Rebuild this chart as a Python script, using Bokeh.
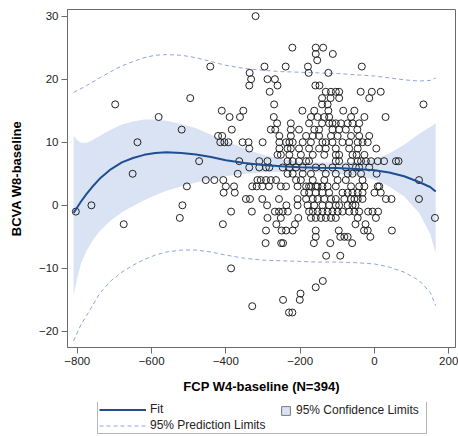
from bokeh.plotting import figure
from bokeh.layouts import column
from bokeh.models import Range1d, FixedTicker, Legend, LegendItem
from bokeh.embed import file_html
from bokeh.resources import INLINE

# ---- scatter data: BCVA change (integer letters) and the FCP changes read per row ----
bcva_levels = [30, 25, 24, 23, 22, 21, 20, 19, 18, 17, 16, 15, 14, 13, 12, 11, 10, 9, 8, 7,
               6, 5, 4, 3, 2, 1, 0, -1, -2, -3, -4, -5, -6, -8, -10, -12, -13, -14, -15, -16, -17]
fcp_by_level = [
    [-320],
    [-221, -158, -138],
    [-158, -112],
    [-154],
    [-442, -296, -239, -179, -34],
    [-336, -177, -124],
    [-332, -288, -268],
    [-337, -261, -159, -148],
    [-282, -131, -117, -104, -95, -37, -7, 17],
    [-496, -141, -118, -95, -14],
    [-698, -270, -141, -126, 132],
    [-411, -353, -194, -162, -124, -84, -54],
    [-581, -390, -362, -271, -171, -153, -135, -122, -63, -27, 30],
    [-262, -225, -176, -141, -122, -113, -104, -90, -72, -59, -41],
    [-519, -384, -279, -267, -225, -203, -162, -149, -113, -95, -77, -46],
    [-421, -410, -256, -225, -184, -166, -149, -117, -99, -63, -41, -14],
    [-638, -415, -404, -393, -355, -339, -301, -256, -238, -229, -220, -193, -171, -140, -131,
     -113, -86, -68, -45, -32, -18],
    [-337, -256, -234, -225, -203, -176, -149, -131, -104, -68, -45, 5],
    [-261, -252, -229, -198, -166, -135, -104, -95, -59, -48, -27],
    [-472, -364, -310, -288, -234, -220, -203, -184, -176, -104, -95, -63, -45, -36, -23, -9,
     9, 26, 58, 65],
    [-337, -310, -292, -283, -247, -229, -211, -193, -158, -140, -113, -77, -50, -41, -14],
    [-651, -368, -234, -220, -193, -171, -131, -104, -72, -59, -36, 6],
    [-454, -431, -407, -315, -306, -292, -279, -265, -211, -198, -166, -135, -99, -77, -32, 120],
    [-505, -400, -378, -329, -317, -302, -284, -252, -238, -207, -184, -176, -171, -158, -153,
     -140, -126, -104, -63, -41, -27, 9, 13],
    [-406, -376, -189, -176, -158, -140, -122, -86, -72, -59, -45, -32, 0, 17],
    [-346, -335, -302, -257, -207, -184, -166, -153, -135, -117, -104, -81, -63, -54, -45, -32,
     31, 46, 120],
    [-762, -517, -289, -237, -207, -180, -162, -140, -122, -104, -95, -72, -59, -51],
    [-804, -386, -330, -268, -257, -247, -233, -176, -166, -153, -140, -126, -113, -99, -86,
     -68, -54, -41, -17, -5, 10],
    [-524, -288, -252, -205, -171, -158, -144, -131, -117, -104, -45, 4, 163],
    [-675, -408, -264, -214, -51, -24],
    [-292, -250, -238, -220, -158, -96, -28, -18, 47],
    [-158, -92, -81, -72, -11],
    [-293, -251, -246, -163, -119, -60],
    [-130, -92],
    [-386],
    [-139],
    [-158],
    [-199],
    [-246, -201],
    [-329],
    [-230, -221],
]

# ---- fitted curve, 95% confidence and prediction limits ----
curve_fcp = [-810, -800, -790, -775, -760, -740, -710, -680, -650, -620, -590, -560, -520,
             -480, -440, -400, -350, -300, -250, -200, -150, -100, -50, 0, 40, 80, 120, 150, 165]
fit_bcva = [-1.2, -0.3, 0.6, 1.8, 2.9, 4.2, 5.7, 6.8, 7.5, 8.0, 8.3, 8.4, 8.3,
            8.05, 7.65, 7.15, 6.7, 6.4, 6.2, 6.05, 5.95, 5.9, 5.75, 5.55, 5.2, 4.6, 3.7, 2.9, 2.2]
clm_lower = [-14.3, -11.5, -9.2, -7.2, -5.7, -4.1, -2.4, -1.1, -0.1, 0.8, 1.6, 2.3, 3.0,
             3.6, 4.1, 4.6, 5.0, 5.2, 5.3, 5.3, 5.2, 5.0, 4.7, 4.1, 3.0, 1.4, -1.2, -4.5, -7.6]
clm_upper = [11.0, 10.3, 9.9, 9.9, 10.3, 11.0, 12.0, 12.8, 13.3, 13.6, 13.6, 13.4, 12.9,
             12.2, 11.2, 10.2, 9.0, 8.0, 7.3, 6.9, 6.8, 6.8, 6.9, 7.3, 8.2, 9.6, 11.3, 12.4, 13.0]
plm_lower = [-21.5, -20.2, -18.9, -17.5, -16.0, -14.0, -12.0, -10.6, -9.5, -8.6, -7.9, -7.4, -7.1,
             -7.1, -7.4, -7.9, -8.4, -8.7, -8.8, -8.9, -9.0, -9.0, -9.1, -9.3, -9.8, -10.6, -11.9,
             -13.8, -15.9]
plm_upper = [17.9, 18.2, 18.5, 19.0, 19.5, 20.2, 21.2, 22.1, 22.8, 23.4, 23.8, 23.9, 23.8,
             23.4, 22.8, 22.2, 21.7, 21.4, 21.2, 21.1, 21.0, 20.9, 20.7, 20.5, 20.2, 19.9, 19.7,
             19.8, 20.2]

x_ticks = [-800, -600, -400, -200, 0, 200]
y_ticks = [-20, -10, 0, 10, 20, 30]

fcp_change = [x for xs in fcp_by_level for x in xs]
bcva_change = [lvl for lvl, xs in zip(bcva_levels, fcp_by_level) for _ in xs]

FONT = "Liberation Sans"
FRAME = "#6b6b6b"
BAND = "#dae3f3"
FIT = "#1f4e91"
PRED = "#8fa6d6"

# ---------------- main plot ----------------
p = figure(width=458, height=402, output_backend="svg", toolbar_location=None,
           x_range=Range1d(-826.4, 218.3), y_range=Range1d(-22.55, 31.05),
           min_border_left=67, min_border_right=3, min_border_top=9, min_border_bottom=55)
p.xgrid.visible = False
p.ygrid.visible = False
p.outline_line_color = FRAME
p.outline_line_width = 1
p.background_fill_color = "white"
p.border_fill_color = "white"

p.varea(x=curve_fcp, y1=clm_lower, y2=clm_upper, fill_color=BAND)
p.line(curve_fcp, plm_upper, line_color=PRED, line_dash="4 3", line_width=1)
p.line(curve_fcp, plm_lower, line_color=PRED, line_dash="4 3", line_width=1)
p.scatter(fcp_change, bcva_change, marker="circle", size=7, fill_color=None,
          line_color="#222222", line_width=1)
p.line(curve_fcp, fit_bcva, line_color=FIT, line_width=2)

for ax in (p.xaxis[0], p.yaxis[0]):
    ax.axis_line_color = FRAME
    ax.major_tick_line_color = FRAME
    ax.minor_tick_line_color = None
    ax.major_tick_out = 6
    ax.major_tick_in = 0
    ax.major_label_text_font = FONT
    ax.major_label_text_font_size = "11.5px"
    ax.major_label_text_color = "#222222"
    ax.axis_label_text_font = FONT
    ax.axis_label_text_font_size = "13px"
    ax.axis_label_text_font_style = "bold"
    ax.axis_label_text_color = "black"
    ax.major_label_standoff = 3

p.xaxis.ticker = FixedTicker(ticks=x_ticks)
p.yaxis.ticker = FixedTicker(ticks=y_ticks)
p.xaxis.axis_label = "FCP W4-baseline (N=394)"
p.yaxis.axis_label = "BCVA W8-baseline"
p.xaxis.axis_label_standoff = 11
p.yaxis.axis_label_standoff = 12

# ---------------- legend strip (its frame is aligned with the main frame) ----------------
lf = figure(width=458, height=34, output_backend="svg", toolbar_location=None,
            x_axis_type=None, y_axis_type=None,
            x_range=Range1d(0, 1), y_range=Range1d(0, 1),
            min_border_left=0, min_border_right=0, min_border_top=0, min_border_bottom=0)
lf.xgrid.visible = False
lf.ygrid.visible = False
lf.outline_line_color = None
lf.background_fill_color = "white"
lf.border_fill_color = "white"

# legend keys only (hidden renderers, never drawn in the strip itself)
key_fit = lf.line(x=[0], y=[0], line_color=FIT, line_width=2, visible=False)
key_pred = lf.line(x=[0], y=[0], line_color=PRED, line_dash="4 3", line_width=1, visible=False)
key_conf = lf.quad(left=[0], right=[0], top=[0], bottom=[0], fill_color=BAND,
                   line_color="#7a7a7a", line_width=1, visible=False)

leg1 = Legend(items=[LegendItem(label="Fit", renderers=[key_fit]),
                     LegendItem(label="95% Prediction Limits", renderers=[key_pred])],
              location=(30, 2), orientation="vertical", glyph_width=47, glyph_height=13,
              label_height=13, label_width=275, spacing=2, padding=1, label_standoff=4,
              margin=0, border_line_color=FRAME, border_line_width=1,
              background_fill_color="white", background_fill_alpha=1,
              inactive_fill_alpha=0,
              label_text_font=FONT, label_text_font_size="12px", label_text_color="#222222")
leg2 = Legend(items=[LegendItem(label="95% Confidence Limits", renderers=[key_conf])],
              location=(213, 19), orientation="vertical", glyph_width=11, glyph_height=11,
              label_height=11, spacing=0, padding=0, label_standoff=5, margin=0,
              border_line_color=None, background_fill_alpha=0, inactive_fill_alpha=0,
              label_text_font=FONT, label_text_font_size="12px", label_text_color="#222222")
lf.add_layout(leg1)
lf.add_layout(leg2)

layout = column(p, lf, spacing=0)
open("out.html", "w").write(file_html(layout, INLINE))
